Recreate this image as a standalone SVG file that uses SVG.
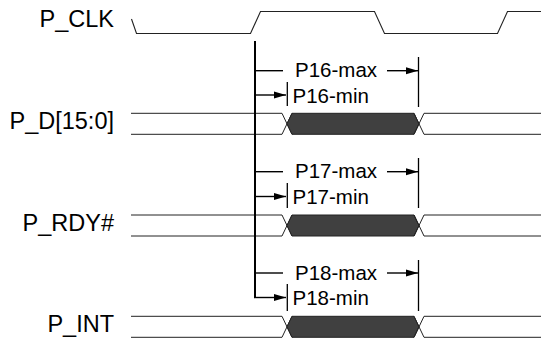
<svg xmlns="http://www.w3.org/2000/svg" width="541" height="339" viewBox="0 0 541 339">
<style>
.lbl{font-family:"Liberation Sans",Arial,sans-serif;font-size:23.5px;fill:#000;text-anchor:end}
.ann{font-family:"Liberation Sans",Arial,sans-serif;font-size:20.5px;fill:#000}
.sig{fill:none;stroke:#222;stroke-width:1.1}
.bus{fill:none;stroke:#222;stroke-width:1}
.hex{fill:#404040;stroke:#222;stroke-width:1}
.tm{fill:none;stroke:#000;stroke-width:1.4}
.tick{fill:none;stroke:#000;stroke-width:1.3}
</style>
<defs>
<marker id="ah" markerWidth="12" markerHeight="8" refX="12" refY="4" orient="auto" markerUnits="userSpaceOnUse">
<path d="M0,0.5 L12,4 L0,7.5 Z" fill="#000"/>
</marker>
<g id="busShape">
<path class="bus" d="M131,0 L282,0 L292,21 M131,21 L282,21 L292,0"/>
<polygon class="hex" points="287,10.5 292,0 414,0 419,10.5 414,21 292,21"/>
<path class="bus" d="M414,0 L424,21 L541,21 M414,21 L424,0 L541,0"/>
</g>
</defs>
<g id="P_CLK">
<text class="lbl" x="114" y="26.5">P_CLK</text>
<path class="sig" d="M131.5,19 L136.5,33.5 L250.5,33.5 L260.5,11.5 L374.5,11.5 L384.5,33.5 L497.5,33.5 L507.5,11.5 L541,11.5"/>
</g>
<g id="P_D">
<text class="lbl" x="114" y="129">P_D[15:0]</text>
<use href="#busShape" y="113.3"/>
</g>
<g id="P_RDY">
<text class="lbl" x="114" y="230.5">P_RDY#</text>
<use href="#busShape" y="215"/>
</g>
<g id="P_INT">
<text class="lbl" x="114" y="331.5">P_INT</text>
<use href="#busShape" y="316.3"/>
</g>
<g id="connectors">
<path d="M255,41 L255,297.5" fill="none" stroke="#000" stroke-width="2"/>
<!-- P16 -->
<path class="tm" d="M255,70.7 L283,70.7"/>
<path class="tm" d="M387,70.7 L418,70.7" marker-end="url(#ah)"/>
<path class="tick" d="M418.5,57 L418.5,107"/>
<path class="tm" d="M255,95 L286,95" marker-end="url(#ah)"/>
<path class="tick" d="M287.3,82 L287.3,106"/>
<!-- P17 -->
<path class="tm" d="M255,171.7 L283,171.7"/>
<path class="tm" d="M387,171.7 L418,171.7" marker-end="url(#ah)"/>
<path class="tick" d="M418.5,158 L418.5,208"/>
<path class="tm" d="M255,196.5 L286,196.5" marker-end="url(#ah)"/>
<path class="tick" d="M287.3,183 L287.3,208"/>
<!-- P18 -->
<path class="tm" d="M255,273 L283,273"/>
<path class="tm" d="M387,273 L418,273" marker-end="url(#ah)"/>
<path class="tick" d="M418.5,260 L418.5,311"/>
<path class="tm" d="M254,297.5 L286,297.5" marker-end="url(#ah)"/>
<path class="tick" d="M287.3,284 L287.3,311"/>
</g>
<g id="labels">
<text class="ann" x="295" y="77">P16-max</text>
<text class="ann" x="292.5" y="102.5">P16-min</text>
<text class="ann" x="295" y="178">P17-max</text>
<text class="ann" x="292.5" y="204">P17-min</text>
<text class="ann" x="295" y="279.5">P18-max</text>
<text class="ann" x="292.5" y="305">P18-min</text>
</g>
</svg>
